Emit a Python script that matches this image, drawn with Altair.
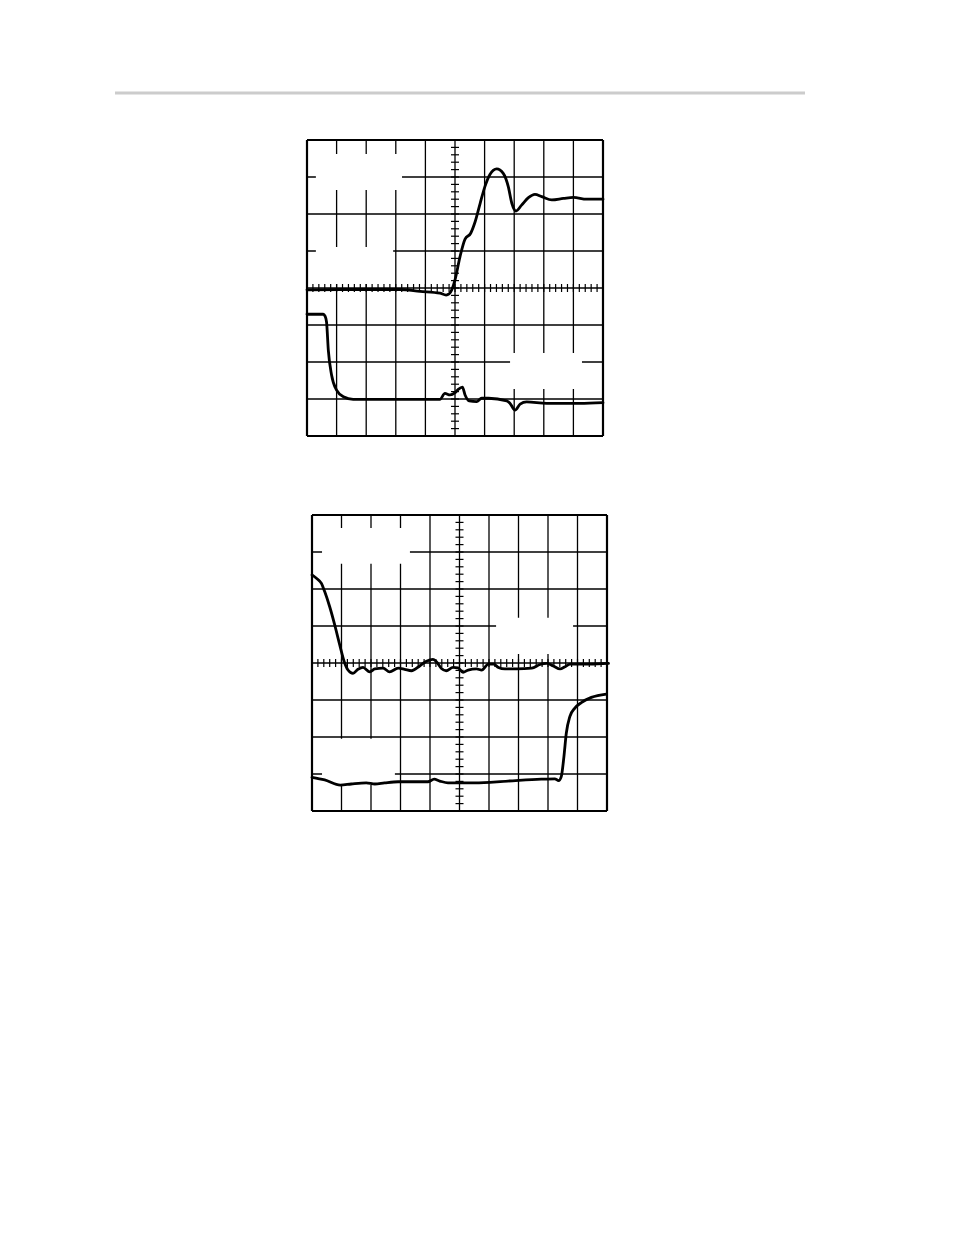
import altair as alt
import pandas as pd

# ---------------- data (oscilloscope divisions: x 0..10, y -4..4) ----------------
# Panel 1, upper trace (rising edge)
p1a_x = [0.00, 1.45, 3.14, 3.82, 4.49, 4.70, 4.80, 4.89, 5.00, 5.17, 5.34, 5.53, 5.68,
         5.85, 6.01, 6.18, 6.41, 6.63, 6.80, 6.92, 7.06, 7.25, 7.48, 7.70, 7.93, 8.27,
         8.66, 9.00, 9.45, 10.00]
p1a_y = [-0.05, -0.04, -0.04, -0.09, -0.14, -0.19, -0.16, -0.05, 0.22, 0.85, 1.32, 1.48,
         1.79, 2.29, 2.74, 3.07, 3.22, 3.10, 2.74, 2.29, 2.08, 2.24, 2.44, 2.53, 2.47,
         2.38, 2.42, 2.45, 2.40, 2.40]
# Panel 1, lower trace (falling edge)
p1b_x = [0.00, 0.55, 0.61, 0.66, 0.72, 0.83, 1.00, 1.23, 1.56, 4.49, 4.66, 4.83, 5.00,
         5.11, 5.25, 5.34, 5.48, 5.73, 5.90, 6.13, 6.75, 6.86, 7.03, 7.20, 7.42, 8.10,
         9.22, 10.00]
p1b_y = [-0.71, -0.71, -0.76, -0.92, -1.68, -2.35, -2.76, -2.94, -3.01, -3.01, -2.85,
         -2.89, -2.83, -2.74, -2.68, -2.89, -3.05, -3.07, -2.98, -2.98, -3.05, -3.12,
         -3.30, -3.14, -3.08, -3.12, -3.12, -3.10]
# Panel 2, upper trace (falling edge, settles at centre)
p2a_x = [0.00, 0.15, 0.32, 0.43, 0.60, 0.77, 0.94, 1.09, 1.22, 1.39, 1.56, 1.73, 1.96,
         2.13, 2.41, 2.63, 2.92, 3.14, 3.37, 3.65, 3.88, 4.10, 4.21, 4.38, 4.55, 4.78,
         4.95, 5.12, 5.29, 5.58, 5.75, 5.98, 6.15, 6.32, 6.54, 6.94, 7.45, 7.73, 7.96,
         8.18, 8.41, 8.58, 8.75, 9.42, 10.05]
p2a_y = [2.38, 2.29, 2.15, 1.93, 1.52, 1.03, 0.49, 0.04, -0.19, -0.28, -0.17, -0.12,
         -0.24, -0.16, -0.14, -0.24, -0.14, -0.17, -0.21, -0.08, 0.05, 0.10, 0.04,
         -0.14, -0.21, -0.12, -0.13, -0.25, -0.19, -0.16, -0.19, -0.03, -0.03, -0.12,
         -0.16, -0.16, -0.14, -0.04, -0.01, -0.08, -0.16, -0.10, -0.03, -0.03, -0.01]
# Panel 2, lower trace (rising edge at right)
p2b_x = [0.00, 0.43, 0.96, 1.33, 1.84, 2.13, 2.46, 2.92, 3.93, 4.14, 4.33, 4.61, 5.52,
         6.64, 7.77, 8.23, 8.36, 8.45, 8.54, 8.62, 8.74, 8.91, 9.13, 9.47, 9.98]
p2b_y = [-3.09, -3.16, -3.30, -3.27, -3.24, -3.27, -3.24, -3.21, -3.21, -3.14, -3.19,
         -3.24, -3.24, -3.19, -3.14, -3.13, -3.18, -3.07, -2.53, -1.90, -1.45, -1.22,
         -1.07, -0.93, -0.84]

# blank label areas (white boxes) in divisions: x, x2, y, y2
p1_boxes = [(0.30, 3.21, 3.62, 2.65), (0.30, 2.91, 1.11, 0.11), (6.86, 9.29, -1.76, -2.73)]
p2_boxes = [(0.34, 3.32, 3.65, 2.68), (6.24, 8.85, 1.22, 0.24), (0.34, 2.81, -2.05, -3.30)]

# ---------------- helpers ----------------
W = 690


def traces_df(series):
    rows = []
    for name, xs, ys in series:
        for i, (x, y) in enumerate(zip(xs, ys)):
            rows.append({"s": name, "i": i, "x": x, "y": y})
    return pd.DataFrame(rows)


def panel(xdom, ydom, height, series, boxes, header=False):
    xs = alt.Scale(domain=xdom, nice=False, zero=False)
    ys = alt.Scale(domain=ydom, nice=False, zero=False)

    vl = pd.DataFrame({"x": list(range(11)), "y": -4, "y2": 4,
                       "w": [2.2 if i in (0, 10) else 1.3 for i in range(11)]})
    hl = pd.DataFrame({"y": list(range(-4, 5)), "x": 0, "x2": 10,
                       "w": [2.2 if i in (-4, 4) else 1.3 for i in range(-4, 5)]})
    xt = pd.DataFrame({"x": [k * 0.2 for k in range(51)], "y": 0})
    yt = pd.DataFrame({"y": [-4 + k * 0.2 for k in range(41)], "x": 5})
    bx = pd.DataFrame(boxes, columns=["x", "x2", "y", "y2"])
    tr = traces_df(series)

    vlines = alt.Chart(vl).mark_rule(color="black").encode(
        x=alt.X("x:Q", scale=xs, axis=None),
        y=alt.Y("y:Q", scale=ys, axis=None), y2="y2:Q",
        strokeWidth=alt.StrokeWidth("w:Q", scale=None))
    hlines = alt.Chart(hl).mark_rule(color="black").encode(
        y=alt.Y("y:Q", scale=ys, axis=None),
        x=alt.X("x:Q", scale=xs, axis=None), x2="x2:Q",
        strokeWidth=alt.StrokeWidth("w:Q", scale=None))
    white = alt.Chart(bx).mark_rect(color="white").encode(
        x=alt.X("x:Q", scale=xs, axis=None), x2="x2:Q",
        y=alt.Y("y:Q", scale=ys, axis=None), y2="y2:Q")
    xticks = alt.Chart(xt).mark_tick(orient="vertical", size=8, thickness=1.2,
                                     color="black", opacity=1).encode(
        x=alt.X("x:Q", scale=xs, axis=None), y=alt.Y("y:Q", scale=ys, axis=None))
    yticks = alt.Chart(yt).mark_tick(orient="horizontal", size=8, thickness=1.2,
                                     color="black", opacity=1).encode(
        x=alt.X("x:Q", scale=xs, axis=None), y=alt.Y("y:Q", scale=ys, axis=None))
    lines = alt.Chart(tr).mark_line(interpolate="monotone", color="black",
                                    strokeWidth=2.8, strokeCap="round",
                                    strokeJoin="round").encode(
        x=alt.X("x:Q", scale=xs, axis=None), y=alt.Y("y:Q", scale=ys, axis=None),
        detail="s:N", order="i:Q")

    layers = [vlines, hlines, white, xticks, yticks, lines]
    if header:
        rule = alt.Chart(pd.DataFrame({"a": [0]})).mark_rule(
            color="#cccccc", strokeWidth=3).encode(
            x=alt.value(0), x2=alt.value(W), y=alt.value(3))
        layers.append(rule)
    return alt.layer(*layers).properties(width=W, height=height)


# panel 1: plot area on page x 115..805, y 90..436; grid 0 at x=307, y0 at 288
p1 = panel([-(307 - 115) / 29.6, (805 - 307) / 29.6], [-4, (288 - 90) / 37], 346,
           [("a", p1a_x, p1a_y), ("b", p1b_x, p1b_y)], p1_boxes, header=True)
# panel 2: plot area on page x 115..805, y 515..811; grid 0 at x=312
p2 = panel([-(312 - 115) / 29.5, (805 - 312) / 29.5], [-4, 4], 296,
           [("a", p2a_x, p2a_y), ("b", p2b_x, p2b_y)], p2_boxes)

chart = alt.vconcat(p1, p2, spacing=79, bounds="flush").properties(
    padding={"left": 105, "top": 82, "right": 0, "bottom": 0},
    background="white"
).configure_view(strokeWidth=0)

chart.save("out.html", embed_options={"renderer": "svg", "actions": False})
